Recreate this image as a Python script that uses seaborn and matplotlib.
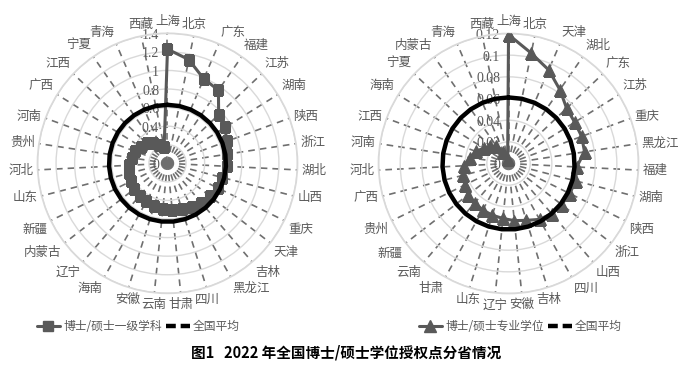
import numpy as np
import pandas as pd
import matplotlib
matplotlib.use('Agg')
import matplotlib.pyplot as plt
from matplotlib.lines import Line2D
import seaborn as sns

# 博士/硕士一级学科 (clockwise from top)
prov1 = ['上海', '北京', '广东', '福建', '江苏', '湖南', '陕西', '浙江', '湖北', '山西',
         '重庆', '天津', '吉林', '黑龙江', '四川', '甘肃', '云南', '安徽', '海南', '辽宁',
         '内蒙古', '新疆', '山东', '河北', '贵州', '河南', '广西', '江西', '宁夏', '青海', '西藏']
val1 = [1.23, 1.14, 0.99, 0.96, 0.76, 0.73, 0.68, 0.65, 0.64, 0.61,
        0.60, 0.58, 0.56, 0.54, 0.52, 0.50, 0.49, 0.48, 0.47, 0.46,
        0.45, 0.44, 0.43, 0.41, 0.39, 0.37, 0.34, 0.31, 0.27, 0.22, 0.18]
avg1 = 0.63
ticks1 = [0, 0.2, 0.4, 0.6, 0.8, 1.0, 1.2, 1.4]
tlab1 = ['0', '0.2', '0.4', '0.6', '0.8', '1', '1.2', '1.4']

# 博士/硕士专业学位
prov2 = ['上海', '北京', '天津', '湖北', '广东', '江苏', '重庆', '黑龙江', '福建', '湖南',
         '陕西', '浙江', '山西', '四川', '吉林', '安徽', '辽宁', '山东', '甘肃', '云南',
         '新疆', '贵州', '广西', '河北', '河南', '江西', '海南', '宁夏', '内蒙古', '青海', '西藏']
val2 = [0.119, 0.104, 0.094, 0.083, 0.074, 0.072, 0.072, 0.071, 0.063, 0.064,
        0.063, 0.062, 0.061, 0.059, 0.055, 0.053, 0.051, 0.050, 0.049, 0.048,
        0.047, 0.045, 0.043, 0.041, 0.036, 0.032, 0.027, 0.023, 0.020, 0.012, 0.004]
avg2 = 0.061
ticks2 = [0, 0.02, 0.04, 0.06, 0.08, 0.10, 0.12]
tlab2 = ['0', '0.02', '0.04', '0.06', '0.08', '0.1', '0.12']

sns.set_theme(style='white')
plt.rcParams['font.family'] = ['Noto Sans CJK SC', 'DejaVu Sans']

GRAY = '#595959'


def radar(ax, prov, vals, avg, ticks, tlab, marker, ms):
    n = len(prov)
    ang = np.arange(n) * 2 * np.pi / n
    df = pd.DataFrame({'ang': np.append(ang, 2 * np.pi), 'val': vals + vals[:1]})
    ax.set_theta_zero_location('N')
    ax.set_theta_direction(-1)
    rmax = ticks[-1]
    ax.set_ylim(0, rmax)
    ax.set_xticks(ang)
    ax.set_xticklabels([])
    ax.set_yticks(ticks)
    ax.set_yticklabels([])
    ax.xaxis.grid(True, color='#6f6f6f', ls=(0, (4, 3)), lw=1.2)
    ax.yaxis.grid(True, color='#d9d9d9', lw=1)
    ax.spines['polar'].set_color('#d9d9d9')

    # radial value labels, left of the top axis
    for t, l in zip(ticks, tlab):
        ax.annotate(l, xy=(0, t), xytext=(-6, -1.5), textcoords='offset points',
                    ha='right', va='center', fontsize=10, color=GRAY,
                    family='Liberation Serif', annotation_clip=False, zorder=1)
    # category labels
    for a, p in zip(ang, prov):
        s, c = np.sin(a), np.cos(a)
        ha = 'center' if abs(s) < 0.35 else ('left' if s > 0 else 'right')
        va = 'center' if abs(c) < 0.35 else ('bottom' if c > 0 else 'top')
        ax.annotate(p, xy=(a, rmax), xytext=(3 * s, 4 * c), textcoords='offset points',
                    ha=ha, va=va, fontsize=9, color=GRAY, annotation_clip=False)

    sns.lineplot(data=df, x='ang', y='val', ax=ax, sort=False, estimator=None,
                 color=GRAY, lw=2.2, marker=marker, ms=ms, mec=GRAY, mfc=GRAY, zorder=3)
    ax.plot(df['ang'], [avg] * len(df), color='black', lw=3.2, zorder=4)
    ax.set_xlabel('')
    ax.set_ylabel('')


fig = plt.figure(figsize=(6.92, 3.69), dpi=100)
ax1 = fig.add_axes([0.0542, 0.2051, 0.3757, 0.7046], projection='polar')
ax2 = fig.add_axes([0.547, 0.2046, 0.3757, 0.7046], projection='polar')

radar(ax1, prov1, val1, avg1, ticks1, tlab1, 's', 7)
radar(ax2, prov2, val2, avg2, ticks2, tlab2, '^', 8)

avg_h = Line2D([], [], color='black', lw=3.2, ls=(0, (2.2, 1.1)))
h1 = [Line2D([], [], color=GRAY, lw=2.2, marker='s', ms=7), avg_h]
h2 = [Line2D([], [], color=GRAY, lw=2.2, marker='^', ms=8), avg_h]
leg_kw = dict(loc='center', ncol=2, frameon=False, fontsize=8.5, handlelength=2.0,
              columnspacing=0.3, handletextpad=0.3, labelcolor=GRAY)
fig.legend(h1, ['博士/硕士一级学科', '全国平均'], bbox_to_anchor=(0.2, 0.114), **leg_kw)
fig.legend(h2, ['博士/硕士专业学位', '全国平均'], bbox_to_anchor=(0.752, 0.114), **leg_kw)

fig.text(0.5, 0.046, '图1   2022 年全国博士/硕士学位授权点分省情况', ha='center', va='center',
         fontsize=10.5, fontweight='bold', color='black')

fig.savefig('out.png', dpi=100)
